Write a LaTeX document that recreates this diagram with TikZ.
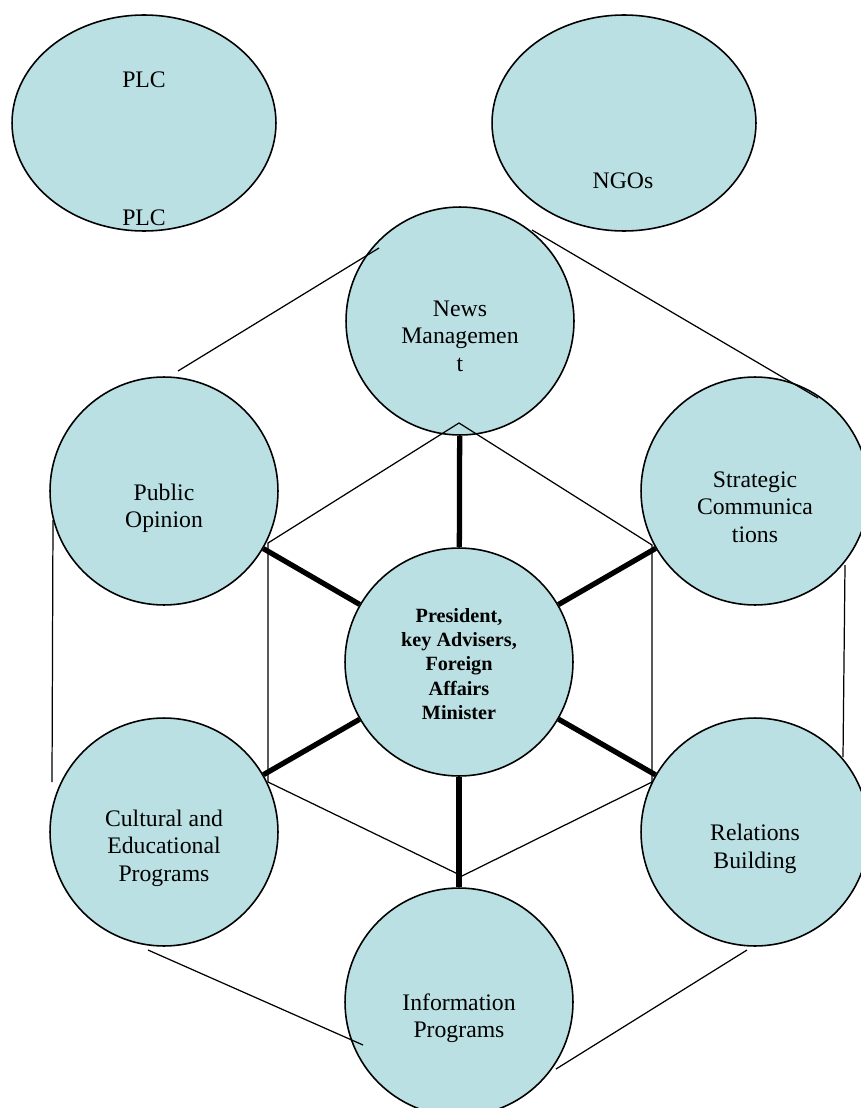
\documentclass[tikz,border=0pt]{standalone}
\usepackage{fontspec}
\setmainfont{Liberation Serif}
\usepackage{tikz}
\usetikzlibrary{positioning,shapes.geometric}
\definecolor{bubblefill}{RGB}{186,224,227}

\begin{document}
\begin{tikzpicture}[x=0.02cm,y=-0.02cm,
    bubble/.style={circle,draw,line width=0.9pt,fill=bubblefill,minimum size=4.56cm,inner sep=0pt},
    oval/.style={ellipse,draw,line width=0.9pt,fill=bubblefill,minimum width=5.28cm,minimum height=4.32cm,inner sep=0pt},
    txt/.style={align=center,inner sep=0pt,font=\fontsize{13.5}{15.6}\selectfont},
    boldtxt/.style={align=center,inner sep=0pt,font=\fontsize{11.5}{13.9}\selectfont\bfseries},
    spoke/.style={line width=3pt},
    hexline/.style={line width=0.7pt}]
\useasboundingbox (0,0) rectangle (860,1108);

% Outer groups
\node[oval] (plc) at (144,123) {};
\node[oval] (ngo) at (624,123) {};

% Ring of circles
\node[bubble] (news)  at (460,321) {};
\node[bubble] (pubop) at (164,491) {};
\node[bubble] (strat) at (755,491) {};
\node[bubble] (cult)  at (164,832) {};
\node[bubble] (relat) at (755,832) {};
\node[bubble] (info)  at (459,1002) {};
\node[bubble] (core)  at (459,662) {};

% Thick spokes from the centre
\foreach \n in {news,pubop,strat,cult,relat,info}
    \draw[spoke] (core) -- (\n);

% Inner hexagon
\coordinate (hexT)  at (459,423);
\coordinate (hexUL) at (268,543);
\coordinate (hexUR) at (652,545);
\coordinate (hexLL) at (268,782);
\coordinate (hexLR) at (652,782);
\coordinate (hexB)  at (462,876);
\draw[hexline] (hexT) -- (hexUL) -- (hexLL) -- (hexB) -- (hexLR) -- (hexUR) -- cycle;

% Outer links
\coordinate (pubopTop)  at (178,371);
\coordinate (newsLeft)  at (379,248);
\coordinate (newsRight) at (532,230);
\coordinate (stratTop)  at (818,398);
\coordinate (pubopLow)  at (53,520);
\coordinate (cultUp)    at (52,782);
\coordinate (stratLow)  at (845,565);
\coordinate (relatUp)   at (843,757);
\coordinate (cultLow)   at (148,950);
\coordinate (infoLeft)  at (363,1045);
\coordinate (relatLow)  at (747,950);
\coordinate (infoRight) at (556,1069);
\draw[hexline] (pubopTop) -- (newsLeft);
\draw[hexline] (newsRight) -- (stratTop);
\draw[hexline] (pubopLow) -- (cultUp);
\draw[hexline] (stratLow) -- (relatUp);
\draw[hexline] (cultLow) -- (infoLeft);
\draw[hexline] (relatLow) -- (infoRight);

% Labels
\node[txt] (plcTop) at (144,80) {PLC};
\node[txt] (plcBot) at (144,218) {PLC};
\node[txt] (ngoTxt) at (623,181) {NGOs};
\node[txt] (newsTxt)  at (460,336)  {News\\Managemen\\t};
\node[txt] (pubopTxt) at (164,508)  {Public\\Opinion};
\node[txt] (stratTxt) at (755,507)  {Strategic\\Communica\\tions};
\node[txt] (cultTxt)  at (164,848)  {Cultural and\\Educational\\Programs};
\node[txt] (relatTxt) at (755,849)  {Relations\\Building};
\node[txt] (infoTxt)  at (459,1018) {Information\\Programs};
\node[boldtxt] (coreTxt) at (459,664) {President,\\key Advisers,\\Foreign\\Affairs\\Minister};
\end{tikzpicture}
\end{document}
